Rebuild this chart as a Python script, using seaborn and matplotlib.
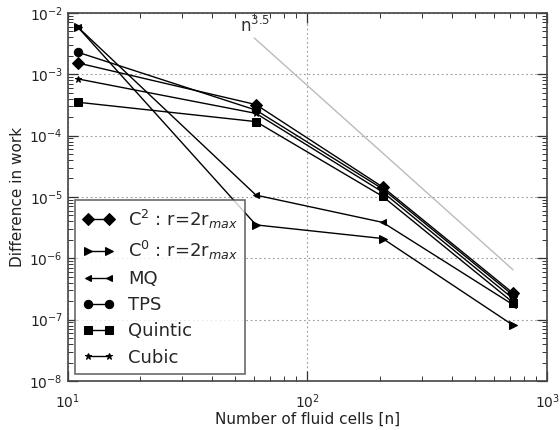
import matplotlib
matplotlib.use("Agg")
import matplotlib.pyplot as plt
from matplotlib.ticker import LogLocator, NullFormatter
import numpy as np
import pandas as pd
import seaborn as sns

# Number of fluid cells
cells = [11, 61, 206, 721]

# Difference in work for each interpolation method
c2_err = [1.53e-3, 3.2e-4, 1.45e-5, 2.7e-7]
c0_err = [5.9e-3, 3.5e-6, 2.1e-6, 8.1e-8]
mq_err = [5.9e-3, 1.07e-5, 3.85e-6, 1.75e-7]
tps_err = [2.29e-3, 2.6e-4, 1.35e-5, 2.5e-7]
quintic_err = [3.5e-4, 1.69e-4, 1.02e-5, 1.9e-7]
cubic_err = [8.4e-4, 2.3e-4, 1.2e-5, 2.2e-7]

labels = [r"C$^2$ : r=2r$_{max}$", r"C$^0$ : r=2r$_{max}$", "MQ", "TPS", "Quintic", "Cubic"]
series = [c2_err, c0_err, mq_err, tps_err, quintic_err, cubic_err]
markers = ["D", ">", "<", "o", "s", "*"]
msizes = [6, 6, 5, 6, 6, 5]

# Reference slope n^-3.5
ref_x = [60, 721]
ref_c = 3.9e-3 * 60 ** 3.5

sns.set_style("ticks", {
    "xtick.direction": "in", "ytick.direction": "in",
    "xtick.top": True, "ytick.right": True,
    "xtick.bottom": True, "ytick.left": True,
    "axes.edgecolor": "#444444",
})
plt.rcParams["font.family"] = ["DejaVu Sans"]
plt.rcParams["mathtext.fontset"] = "dejavusans"
plt.rcParams["axes.unicode_minus"] = False
plt.rcParams["xtick.minor.visible"] = True
plt.rcParams["ytick.minor.visible"] = True

fig = plt.figure(figsize=(5.6, 4.3), dpi=100)
ax = fig.add_axes([0.121, 0.114, 0.856, 0.856])
ax.set_xscale("log")
ax.set_yscale("log")

for lab, vals, mk, ms in zip(labels, series, markers, msizes):
    df = pd.DataFrame({"cells": cells, "err": vals})
    sns.lineplot(data=df, x="cells", y="err", ax=ax, color="black", lw=1.0,
                 marker=mk, markersize=ms, markeredgecolor="black",
                 markerfacecolor="black", label=lab)

ref_df = pd.DataFrame({"cells": ref_x, "err": [ref_c * x ** -3.5 for x in ref_x]})
sns.lineplot(data=ref_df, x="cells", y="err", ax=ax, color="#bbbbbb", lw=1.0,
             legend=False)
ax.text(52.5, 4.9e-3, r"n$^{3.5}$", fontsize=12, color="#333333")

ax.set_xlim(10, 1000)
ax.set_ylim(1e-8, 1e-2)
for axis in (ax.xaxis, ax.yaxis):
    axis.set_major_locator(LogLocator(base=10, numticks=20))
    axis.set_minor_locator(LogLocator(base=10, subs=np.arange(2, 10), numticks=100))
    axis.set_minor_formatter(NullFormatter())
ax.grid(True, which="major", linestyle=(0, (1.5, 2.5)), color="#999999", lw=0.8)
ax.tick_params(which="both", direction="in", bottom=True, left=True, top=True,
               right=True, labelsize=10, labelcolor="#222222", color="#333333")
ax.tick_params(which="major", length=7, width=0.9)
ax.tick_params(which="minor", length=3.5, width=0.7)
ax.tick_params(axis="x", pad=8)
ax.tick_params(axis="y", pad=3.5)
for s in ax.spines.values():
    s.set_visible(True)
    s.set_color("#444444")
    s.set_linewidth(1.2)

ax.set_xlabel("Number of fluid cells [n]", fontsize=11, color="#222222", labelpad=1)
ax.set_ylabel("Difference in work", fontsize=11, color="#222222", labelpad=3)

handles, labs = ax.get_legend_handles_labels()
leg = ax.legend(handles, labs, loc="lower left", numpoints=2, fontsize=13,
                frameon=True, fancybox=False, borderpad=0.4, labelspacing=0.45,
                handlelength=1.8, handletextpad=0.75, borderaxespad=0.4)
leg.get_frame().set_edgecolor("#444444")
leg.get_frame().set_linewidth(1.2)

fig.savefig("out.png", dpi=100)
